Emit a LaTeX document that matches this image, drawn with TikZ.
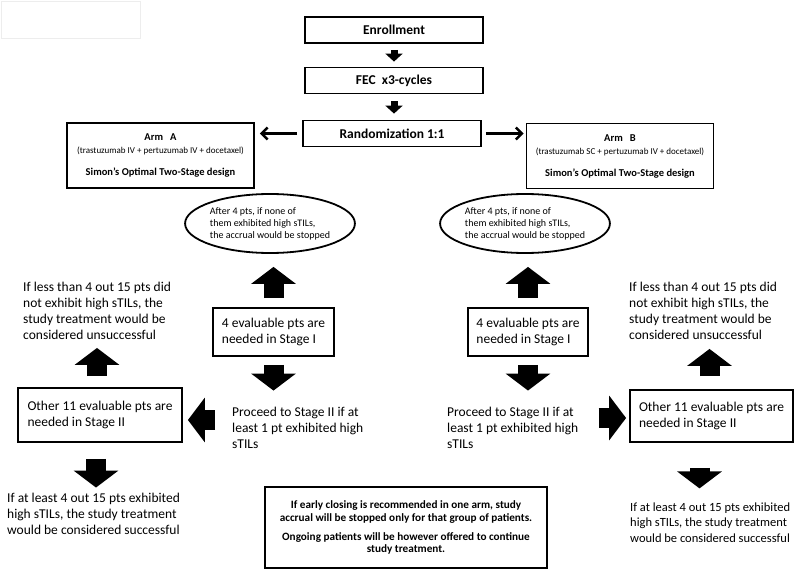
\documentclass[tikz,border=0pt]{standalone}
\usepackage{fontspec}
\setmainfont{Carlito}
\usetikzlibrary{arrows.meta,calc,shapes.geometric}
\tikzstyle{box}=[draw,line width=1.8pt,inner sep=0pt,align=center]
\tikzstyle{head}=[box,minimum width=178pt,minimum height=26pt,font=\fontsize{13.5}{16}\selectfont\bfseries]
\tikzstyle{arm}=[box,minimum width=187pt,minimum height=65pt,font=\fontsize{10.5}{13}\selectfont\bfseries]
\tikzstyle{oval}=[draw,ellipse,line width=1.8pt,inner sep=0pt,align=left,minimum width=156pt,minimum height=59pt,font=\fontsize{10}{12}\selectfont]
\tikzstyle{stagebox}=[box,align=left,font=\fontsize{13.5}{16}\selectfont]
\tikzstyle{txt}=[anchor=west,align=left,inner sep=0pt,font=\fontsize{13.5}{16}\selectfont]
\tikzstyle{bigarrow}=[line width=20pt,-{Triangle[width=44pt,length=17pt]}]
\tikzstyle{smallarrow}=[line width=7pt,-{Triangle[width=17pt,length=8pt]}]
\tikzstyle{thinarrow}=[line width=2.5pt,-{Straight Barb[length=6pt,width=12pt]}]
\def\subtext{\fontsize{9}{10}\selectfont\mdseries}

\begin{document}
\begin{tikzpicture}[x=1pt,y=-1pt]
  \useasboundingbox (0,0) rectangle (795,572);
  \draw[black!7] (1,1) rectangle (140,38);

  % TOP
  \node[head] (enroll) at (394,30)    {Enrollment};
  \node[head] (fec)    at (394,80.5)  {FEC\ \ x3-cycles};
  \node[head] (rand)   at (392,133.5) {Randomization 1:1};

  % ARMS
  \node[arm] (armA) at (160.5,155.5) {Arm\ \ \ A\\{\subtext(trastuzumab IV + pertuzumab IV + docetaxel)}\\[9pt]Simon’s Optimal Two-Stage design};
  \node[arm] (armB) at (620,156) {Arm\ \ \ B\\{\subtext(trastuzumab SC + pertuzumab IV + docetaxel)}\\[9pt]Simon’s Optimal Two-Stage design};

  % STAGE I
  \node[oval] (ellA) at (270,223.5) {After 4 pts, if none of\\them exhibited high sTILs,\\the accrual would be stopped};
  \node[oval] (ellB) at (525,223.5) {After 4 pts, if none of\\them exhibited high sTILs,\\the accrual would be stopped};
  \node[stagebox,minimum width=121pt,minimum height=48pt] (stageA) at (273.5,332) {4 evaluable pts are\\needed in Stage I};
  \node[stagebox,minimum width=120pt,minimum height=48pt] (stageB) at (528,332) {4 evaluable pts are\\needed in Stage I};
  \node[txt] (proceedA) at (232,427.5) {Proceed to Stage II if at\\least 1 pt exhibited high\\sTILs};
  \node[txt] (proceedB) at (447,427.5) {Proceed to Stage II if at\\least 1 pt exhibited high\\sTILs};

  % STAGE II
  \node[stagebox,minimum width=164pt,minimum height=54pt] (otherA) at (100,415) {Other 11 evaluable pts are\\needed in Stage II};
  \node[stagebox,minimum width=163pt,minimum height=52pt] (otherB) at (711.5,416) {Other 11 evaluable pts are\\needed in Stage II};
  \node[txt] (failA) at (23,311) {If less than 4 out 15 pts did\\not exhibit high sTILs, the\\study treatment would be\\considered unsuccessful};
  \node[txt] (failB) at (629,311) {If less than 4 out 15 pts did\\not exhibit high sTILs, the\\study treatment would be\\considered unsuccessful};
  \node[txt] (successA) at (7,513.5) {If at least 4 out 15 pts exhibited\\high sTILs, the study treatment\\would be considered successful};
  \node[txt,font=\fontsize{12.5}{15.5}\selectfont] (successB) at (630,522.5) {If at least 4 out 15 pts exhibited\\high sTILs, the study treatment\\would be considered successful};

  % NOTE
  \node[box,minimum width=282pt,minimum height=81pt,font=\fontsize{11.2}{12.5}\selectfont\bfseries] (note) at (406,527.5)
    {If early closing is recommended in one arm, study\\accrual will be stopped only for that group of patients.\\[6.5pt]Ongoing patients will be however offered to continue\\study treatment.};

  % ARROWS
  \draw[smallarrow,shorten <=6pt,shorten >=5pt] (enroll) -- (fec);
  \draw[smallarrow,shorten <=7pt,shorten >=6pt] (fec.south) -- (fec.south |- rand.north);
  \draw[thinarrow,shorten <=5pt,shorten >=5pt] (rand.west) -- (rand.west -| armA.east);
  \draw[thinarrow,shorten <=4pt,shorten >=2pt] (rand.east) -- (rand.east -| armB.west);

  \draw[bigarrow,shorten <=9pt,shorten >=13pt] (stageA.north) -- (stageA.north |- ellA.south);
  \draw[bigarrow,shorten <=9pt,shorten >=13pt] (stageB.north) -- (stageB.north |- ellB.south);
  \draw[bigarrow,shorten <=8pt,shorten >=16pt] (stageA.south) -- (stageA.south |- proceedA.north);
  \draw[bigarrow,shorten <=8pt,shorten >=16pt] (stageB.south) -- (stageB.south |- proceedB.north);
  \draw[bigarrow,shorten <=17pt,shorten >=5pt] ([yshift=-5pt]proceedA.west |- otherA.east) -- ([yshift=-5pt]otherA.east);
  \draw[bigarrow,shorten <=20pt,shorten >=3pt] ([yshift=-2pt]proceedB.east |- otherB.west) -- ([yshift=-2pt]otherB.west);

  \draw[bigarrow,shorten <=11pt,shorten >=8pt] ([xshift=-3pt]otherA.north) -- ([xshift=-3pt]otherA.north |- failA.south);
  \draw[bigarrow,shorten <=13pt,shorten >=9pt] ([xshift=-2pt]otherB.north) -- ([xshift=-2pt]otherB.north |- failB.south);
  \draw[bigarrow,shorten <=16pt,shorten >=5pt] ([xshift=-4pt]otherA.south) -- ([xshift=-4pt]otherA.south |- successA.north);
  \draw[bigarrow,shorten <=25pt,shorten >=14pt] ([xshift=-12pt]otherB.south) -- ([xshift=-12pt]otherB.south |- successB.north);
\end{tikzpicture}
\end{document}
